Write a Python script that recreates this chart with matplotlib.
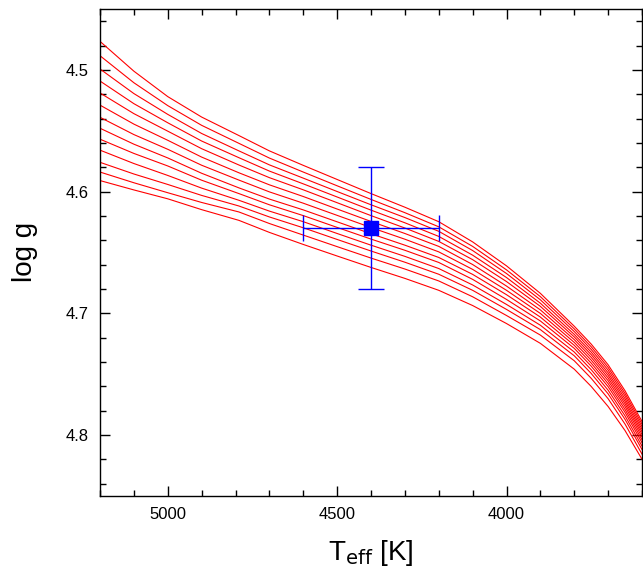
import numpy as np
import matplotlib.pyplot as plt
from matplotlib.ticker import MultipleLocator

plt.rcParams['font.family'] = ['Liberation Sans', 'DejaVu Sans']

# Temperature grid (K) at which each model track is tabulated
teff = [5200, 5100, 5000, 4900, 4790, 4700, 4600, 4500, 4400,
        4300, 4200, 4100, 4000, 3900, 3800, 3750, 3700, 3650, 3600]

# log g of the 13 model tracks at the temperatures above
tracks = [
    [4.4766, 4.5011, 4.5220, 4.5388, 4.5540, 4.5666, 4.5785, 4.5901, 4.6017,
     4.6129, 4.6248, 4.6414, 4.6611, 4.6837, 4.7107, 4.7254, 4.7424, 4.7638, 4.7890],
    [4.4884, 4.5106, 4.5294, 4.5456, 4.5604, 4.5725, 4.5840, 4.5953, 4.6065,
     4.6174, 4.6290, 4.6451, 4.6644, 4.6864, 4.7129, 4.7276, 4.7446, 4.7660, 4.7911],
    [4.4993, 4.5195, 4.5366, 4.5523, 4.5666, 4.5781, 4.5890, 4.6000, 4.6109,
     4.6214, 4.6327, 4.6485, 4.6674, 4.6890, 4.7151, 4.7298, 4.7468, 4.7681, 4.7932],
    [4.5092, 4.5278, 4.5435, 4.5585, 4.5722, 4.5832, 4.5937, 4.6045, 4.6153,
     4.6257, 4.6369, 4.6523, 4.6707, 4.6918, 4.7174, 4.7320, 4.7490, 4.7703, 4.7953],
    [4.5190, 4.5360, 4.5504, 4.5648, 4.5782, 4.5886, 4.5986, 4.6092, 4.6198,
     4.6300, 4.6410, 4.6560, 4.6740, 4.6944, 4.7195, 4.7341, 4.7511, 4.7724, 4.7974],
    [4.5290, 4.5446, 4.5579, 4.5717, 4.5846, 4.5945, 4.6041, 4.6144, 4.6246,
     4.6345, 4.6451, 4.6600, 4.6777, 4.6973, 4.7217, 4.7363, 4.7533, 4.7745, 4.7995],
    [4.5390, 4.5532, 4.5653, 4.5784, 4.5906, 4.6003, 4.6096, 4.6196, 4.6296,
     4.6392, 4.6496, 4.6640, 4.6812, 4.7002, 4.7240, 4.7386, 4.7555, 4.7767, 4.8017],
    [4.5480, 4.5611, 4.5724, 4.5850, 4.5970, 4.6062, 4.6151, 4.6249, 4.6347,
     4.6441, 4.6542, 4.6681, 4.6848, 4.7032, 4.7264, 4.7410, 4.7579, 4.7791, 4.8040],
    [4.5570, 4.5687, 4.5790, 4.5907, 4.6017, 4.6109, 4.6198, 4.6295, 4.6391,
     4.6483, 4.6583, 4.6722, 4.6887, 4.7064, 4.7289, 4.7435, 4.7604, 4.7815, 4.8064],
    [4.5660, 4.5770, 4.5868, 4.5972, 4.6072, 4.6161, 4.6248, 4.6345, 4.6441,
     4.6533, 4.6633, 4.6768, 4.6928, 4.7099, 4.7319, 4.7464, 4.7633, 4.7844, 4.8092],
    [4.5760, 4.5856, 4.5942, 4.6032, 4.6119, 4.6209, 4.6298, 4.6394, 4.6489,
     4.6581, 4.6680, 4.6812, 4.6969, 4.7135, 4.7350, 4.7495, 4.7663, 4.7873, 4.8120],
    [4.5840, 4.5928, 4.6010, 4.6090, 4.6168, 4.6263, 4.6358, 4.6453, 4.6547,
     4.6637, 4.6735, 4.6865, 4.7019, 4.7180, 4.7391, 4.7535, 4.7703, 4.7912, 4.8158],
    [4.5910, 4.5987, 4.6060, 4.6149, 4.6237, 4.6336, 4.6435, 4.6530, 4.6624,
     4.6714, 4.6812, 4.6937, 4.7085, 4.7248, 4.7460, 4.7602, 4.7767, 4.7965, 4.8200],
]

# Measured star parameters with errors
star_teff = 4400
star_teff_err = 200
star_logg = 4.63
star_logg_err = 0.05

fig = plt.figure(figsize=(6.43, 5.75), dpi=100)
ax = fig.add_axes([100/643, (575-495.7)/575, 542/643, (495.7-9)/575])

for tr in tracks:
    ax.plot(teff, tr, color='#ff0000', lw=0.8)

ax.errorbar(star_teff, star_logg, xerr=star_teff_err, yerr=star_logg_err,
            fmt='s', color='#0000ff', ms=9.5, elinewidth=1.0, capsize=9.5,
            capthick=1.0)

ax.set_xlim(5200, 3600)
ax.set_ylim(4.85, 4.45)

ax.xaxis.set_major_locator(MultipleLocator(500))
ax.xaxis.set_minor_locator(MultipleLocator(100))
ax.yaxis.set_major_locator(MultipleLocator(0.1))
ax.yaxis.set_minor_locator(MultipleLocator(0.02))
ax.tick_params(which='both', direction='in', top=True, right=True,
               labelsize=12, width=1.0)
ax.tick_params(which='major', length=7, pad=8)
ax.tick_params(which='minor', length=4)
for s in ax.spines.values():
    s.set_linewidth(1.0)

ax.set_xlabel(r'T$_{\rm eff}$ [K]', fontsize=20, labelpad=12)
ax.set_ylabel('log g', fontsize=20, labelpad=20)

fig.savefig('out.png', dpi=100)
